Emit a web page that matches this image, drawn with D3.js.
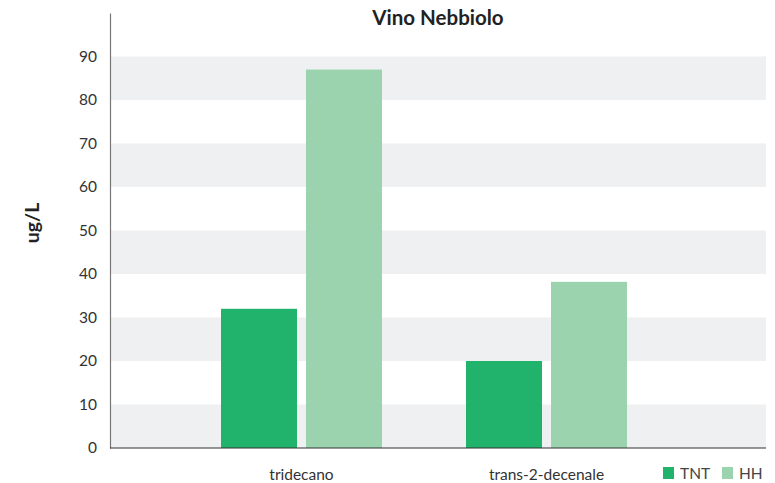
<!DOCTYPE html>
<html lang="it">
<head>
<meta charset="utf-8">
<title>Vino Nebbiolo</title>
<script src="https://d3js.org/d3.v7.min.js"></script>
<style>
  body { margin: 0; background: #fff; }
  text { font-family: Lato, "Open Sans", sans-serif; }
</style>
</head>
<body>
<div id="chart"></div>
<script>
// data
var categories = ["tridecano", "trans-2-decenale"];
var series = ["TNT", "HH"];
var tntValues = [32, 20];
var hhValues = [87, 38.2];
var yTicks = [0, 10, 20, 30, 40, 50, 60, 70, 80, 90];

var colors = { TNT: "#21b36b", HH: "#9bd3ae" };

var width = 775, height = 483;
var plot = { left: 110, right: 766, top: 13, bottom: 448 };

var svg = d3.select("#chart").append("svg")
    .attr("width", width)
    .attr("height", height);

var y = d3.scaleLinear()
    .domain([0, 100])
    .range([plot.bottom, plot.top]);

var x0 = d3.scaleBand()
    .domain(categories)
    .range([179, 669]);

var x1 = d3.scaleBand()
    .domain(series)
    .range([42, 203])
    .paddingInner(0.106);

// alternating grey bands
var bands = yTicks.filter(function(d) { return d % 20 == 0; });
svg.append("g").selectAll("rect")
    .data(bands)
    .enter().append("rect")
    .attr("x", plot.left)
    .attr("width", plot.right - plot.left)
    .attr("y", function(d) { return y(d + 10); })
    .attr("height", function(d) { return y(d) - y(d + 10); })
    .attr("fill", "#eff0f2");

// bars
var rows = categories.map(function(c, i) {
  return { cat: c, values: [{ key: "TNT", v: tntValues[i] }, { key: "HH", v: hhValues[i] }] };
});

svg.append("g").selectAll("g")
    .data(rows)
    .enter().append("g")
    .attr("transform", function(d) { return "translate(" + x0(d.cat) + ",0)"; })
  .selectAll("rect")
    .data(function(d) { return d.values; })
    .enter().append("rect")
    .attr("x", function(d) { return x1(d.key); })
    .attr("width", x1.bandwidth())
    .attr("y", function(d) { return y(d.v); })
    .attr("height", function(d) { return plot.bottom - y(d.v); })
    .attr("fill", function(d) { return colors[d.key]; });

// y axis
var yAxis = svg.append("g")
    .attr("transform", "translate(" + plot.left + ",0)")
    .call(d3.axisLeft(y).tickValues(yTicks).tickSize(0).tickPadding(13));
yAxis.select(".domain").attr("stroke", "#777").attr("stroke-width", 1.2);
yAxis.selectAll("text")
    .attr("font-size", 15.5)
    .attr("fill", "#333")
    .style("font-family", "Lato, 'Open Sans', sans-serif");

// baseline
svg.append("line")
    .attr("x1", plot.left).attr("x2", plot.right)
    .attr("y1", plot.bottom).attr("y2", plot.bottom)
    .attr("stroke", "#333").attr("stroke-width", 1.2);

// x labels
svg.append("g").selectAll("text")
    .data(categories)
    .enter().append("text")
    .attr("x", function(d) { return x0(d) + x0.bandwidth() / 2; })
    .attr("y", 480)
    .attr("text-anchor", "middle")
    .attr("font-size", 15.5)
    .attr("fill", "#333")
    .text(function(d) { return d; });

// title
svg.append("text")
    .attr("x", (plot.left + plot.right) / 2)
    .attr("y", 25)
    .attr("text-anchor", "middle")
    .attr("font-size", 20.5)
    .attr("font-weight", "bold")
    .attr("fill", "#222")
    .text("Vino Nebbiolo");

// y title
svg.append("text")
    .attr("transform", "translate(39,223) rotate(-90)")
    .attr("text-anchor", "middle")
    .attr("font-size", 19.5)
    .attr("font-weight", "bold")
    .attr("fill", "#222")
    .text("ug/L");

// legend
var legendX = [663, 722];
var legend = svg.append("g").selectAll("g")
    .data(series)
    .enter().append("g")
    .attr("transform", function(d, i) { return "translate(" + legendX[i] + ",467)"; });
legend.append("rect")
    .attr("width", 11).attr("height", 12)
    .attr("fill", function(d) { return colors[d]; });
legend.append("text")
    .attr("x", 17).attr("y", 11.5)
    .attr("font-size", 15.5)
    .attr("fill", "#444")
    .text(function(d) { return d; });
</script>
</body>
</html>
